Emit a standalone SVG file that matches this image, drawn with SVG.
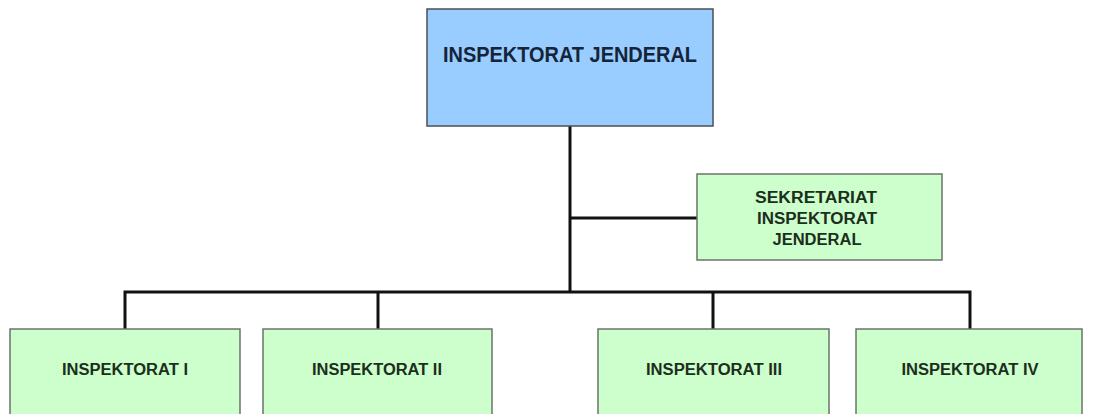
<svg xmlns="http://www.w3.org/2000/svg" width="1118" height="414" viewBox="0 0 1118 414">
<style>
.bg{fill:#ffffff}
.blue{fill:#99ccff;stroke:#4a4f55;stroke-width:1.5}
.green{fill:#ccffcc;stroke:#6a746a;stroke-width:1.5}
.conn{fill:none;stroke:#111111;stroke-width:3}
.t{font-family:"Liberation Sans",Arial,sans-serif;font-weight:bold;text-anchor:middle}
.tb{fill:#14243a;font-size:22px}
.tg{fill:#1c2e1c;font-size:16px}
</style>
<rect class="bg" x="0" y="0" width="1118" height="414"/>
<g id="connectors">
<path class="conn" d="M570 126 V292"/>
<path class="conn" d="M570 218 H697"/>
<path class="conn" d="M125 329 V292 H970 V329"/>
<path class="conn" d="M378 292 V329"/>
<path class="conn" d="M713 292 V329"/>
</g>
<g id="inspektorat-jenderal">
<rect class="blue" x="427" y="9" width="286" height="117"/>
<text class="t tb" x="570" y="62" textLength="254" lengthAdjust="spacingAndGlyphs">INSPEKTORAT JENDERAL</text>
</g>
<g id="sekretariat">
<rect class="green" x="697" y="174" width="245" height="86"/>
<text class="t tg" x="816" y="203" textLength="122" lengthAdjust="spacingAndGlyphs">SEKRETARIAT</text>
<text class="t tg" x="817" y="224" textLength="120" lengthAdjust="spacingAndGlyphs">INSPEKTORAT</text>
<text class="t tg" x="817" y="245" textLength="89" lengthAdjust="spacingAndGlyphs">JENDERAL</text>
</g>
<g id="inspektorat-1">
<rect class="green" x="10" y="329" width="230" height="100"/>
<text class="t tg" x="125" y="375" textLength="126" lengthAdjust="spacingAndGlyphs">INSPEKTORAT I</text>
</g>
<g id="inspektorat-2">
<rect class="green" x="263" y="329" width="229" height="100"/>
<text class="t tg" x="377" y="375" textLength="130" lengthAdjust="spacingAndGlyphs">INSPEKTORAT II</text>
</g>
<g id="inspektorat-3">
<rect class="green" x="598" y="329" width="231" height="100"/>
<text class="t tg" x="714" y="375" textLength="136" lengthAdjust="spacingAndGlyphs">INSPEKTORAT III</text>
</g>
<g id="inspektorat-4">
<rect class="green" x="856" y="329" width="226" height="100"/>
<text class="t tg" x="970" y="375" textLength="137" lengthAdjust="spacingAndGlyphs">INSPEKTORAT IV</text>
</g>
</svg>
